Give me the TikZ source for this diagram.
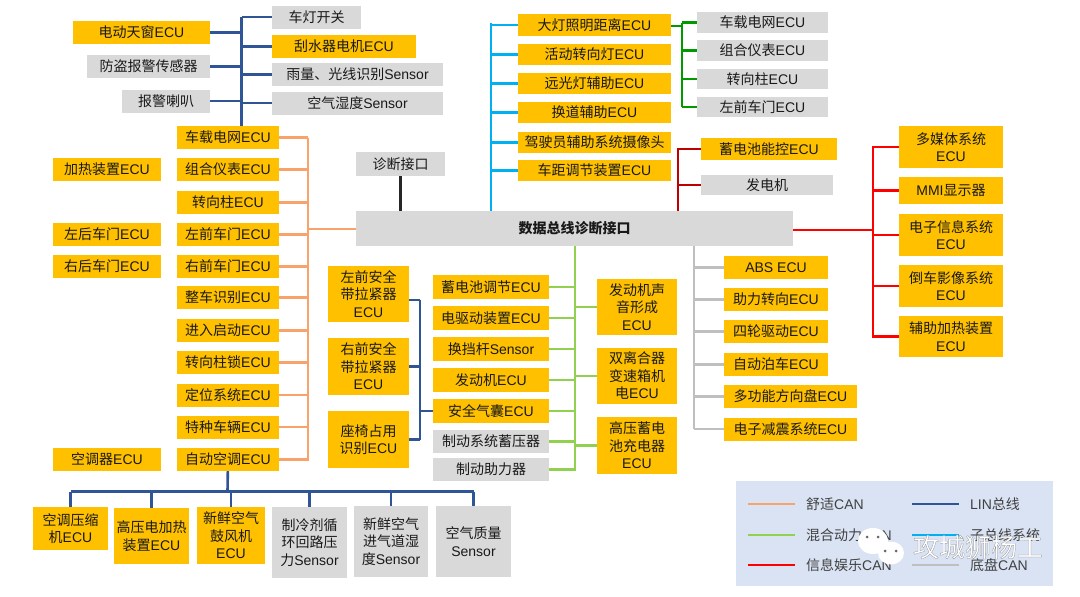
\documentclass[tikz,border=0pt]{standalone}
\usepackage{fontspec}
\usepackage{xcolor}
\usetikzlibrary{shapes.geometric}
\setmainfont{Noto Sans CJK SC}
\newfontfamily\latf{Liberation Sans}
\newcommand{\ECU}{{\latf ECU}}
\newcommand{\Sen}{{\latf Sensor}}
\newcommand{\CAN}{{\latf CAN}}
\definecolor{ecucolor}{RGB}{255,192,0}
\definecolor{sencolor}{RGB}{217,217,217}
\definecolor{comfcolor}{RGB}{248,163,107}
\definecolor{lincolor}{RGB}{47,85,151}
\definecolor{hybcolor}{RGB}{146,208,80}
\definecolor{subcolor}{RGB}{0,176,240}
\definecolor{chascolor}{RGB}{191,191,191}
\definecolor{legcolor}{RGB}{218,227,243}
\begin{document}
\begin{tikzpicture}[
  x=1pt, y=-1pt,
  box/.style={minimum width=#1, inner sep=0pt, align=center, text=black!90, font=\fontsize{14}{17.5}\selectfont},
  ecu/.style={box=#1, fill=ecucolor},
  sen/.style={box=#1, fill=sencolor},
  bus/.style={line width=2.6pt},
  comf/.style={bus, comfcolor},
  lin/.style={bus, lincolor},
  hyb/.style={bus, hybcolor},
  sub/.style={bus, subcolor},
  chas/.style={bus, chascolor},
  info/.style={bus, red},
  gate/.style={bus, green!60!black},
  batt/.style={bus, red!75!black},
  leg/.style={font=\fontsize{14}{17}\selectfont, text=black!75, anchor=west, inner sep=0pt},
  bubble/.style={fill=white, ellipse, inner sep=0pt},
  eye/.style={fill=black!60, circle, minimum size=3pt, inner sep=0pt},
]
\useasboundingbox (0,0) rectangle (1080,597);
% Main interface
\node[sen=437pt, minimum height=35pt, font=\fontsize{14}{17}\selectfont\bfseries] (diag) at (574.5,228.5) {数据总线诊断接口};
\node[sen=89pt, minimum height=24pt] (port) at (400.5,164) {诊断接口};
\draw[bus, black!85] (port) -- (port |- diag.north);
% LIN top
\foreach \i/\x/\y/\w/\st/\t in {0/141.5/32.5/137/ecu/电动天窗\ECU, 1/148.5/66.5/123/sen/防盗报警传感器, 2/166/101/88/sen/报警喇叭} {
  \node[\st=\w pt, minimum height=23pt] (tl\i) at (\x,\y) {\t};
}
\foreach \i/\x/\y/\w/\st/\t in {0/316.5/17/89/sen/车灯开关, 1/344/46.5/144/ecu/刮水器电机\ECU, 2/357.5/74.5/171/sen/雨量、光线识别\Sen, 3/357.5/103/171/sen/空气湿度\Sen} {
  \node[\st=\w pt, minimum height=23pt] (tr\i) at (\x,\y) {\t};
}
\coordinate (lintop) at (241.5,17);
\coordinate (linbot) at (241.5,126);
\draw[lin] (lintop) -- (linbot);
\foreach \i in {0,1,2} {
  \draw[lin] (tl\i) -- (tl\i -| lintop);
}
\foreach \i in {0,1,2,3} {
  \draw[lin] (tr\i) -- (tr\i -| lintop);
}
% Comfort CAN
\foreach \i/\y/\t in {0/137.5/车载电网\ECU, 1/169.5/组合仪表\ECU, 2/202.5/转向柱\ECU, 3/234.5/左前车门\ECU, 4/266.5/右前车门\ECU, 5/297.5/整车识别\ECU, 6/330.5/进入启动\ECU, 7/362.5/转向柱锁\ECU, 8/395/定位系统\ECU, 9/427/特种车辆\ECU, 10/459.5/自动空调\ECU} {
  \node[ecu=102pt, minimum height=23pt] (c\i) at (228,\y) {\t};
}
\coordinate (comftop) at (308,137.5);
\coordinate (combot) at (308,460.5);
\draw[comf] (comftop) -- (combot);
\foreach \i in {0,...,10} {
  \draw[comf] (c\i) -- (c\i -| comftop);
}
\draw[comf] (diag.west |- 0,229) -- (comftop |- 0,229);
\foreach \i/\y/\t in {0/169.5/加热装置\ECU, 1/234.5/左后车门\ECU, 2/266.5/右后车门\ECU, 3/459.5/空调器\ECU} {
  \node[ecu=108pt, minimum height=23pt] (o\i) at (107,\y) {\t};
}
% LIN bottom
\coordinate (binbar) at (227.5,491.5);
\draw[lin] (c10) -- (binbar);
\foreach \i/\x/\y/\w/\h/\st/\t in {0/70.5/528.5/75/43/ecu/空调压缩\\机\ECU, 1/151.5/536/75/56/ecu/高压电加热\\装置\ECU, 2/231/535.5/68/57/ecu/新鲜空气\\鼓风机\\\ECU, 3/309.5/542.5/75/71/sen/制冷剂循\\环回路压\\力\Sen, 4/391/541.5/74/71/sen/新鲜空气\\进气道湿\\度\Sen, 5/473.5/541.5/75/71/sen/空气质量\\\Sen} {
  \node[\st=\w pt, minimum height=\h pt] (b\i) at (\x,\y) {\t};
}
\draw[lin] (b0.north |- binbar) -- (b5.north |- binbar);
\foreach \i in {0,...,5} {
  \draw[lin] (b\i.north |- binbar) -- (b\i.north);
}
% Seat belts
\foreach \i/\y/\h/\t in {0/294/56/左前安全\\带拉紧器\\\ECU, 1/366.5/57/右前安全\\带拉紧器\\\ECU, 2/439.5/57/座椅占用\\识别\ECU} {
  \node[ecu=81pt, minimum height=\h pt] (s\i) at (368.5,\y) {\t};
}
% Hybrid CAN
\foreach \i/\y/\st/\t in {0/287/ecu/蓄电池调节\ECU, 1/318/ecu/电驱动装置\ECU, 2/349/ecu/换挡杆\Sen, 3/380/ecu/发动机\ECU, 4/411/ecu/安全气囊\ECU, 5/441.5/sen/制动系统蓄压器, 6/469.5/sen/制动助力器} {
  \node[\st=116pt, minimum height=23.5pt] (h\i) at (491,\y) {\t};
}
\foreach \i/\y/\t in {0/307/发动机声\\音形成\\\ECU, 1/376/双离合器\\变速箱机\\电\ECU, 2/445.5/高压蓄电\\池充电器\\\ECU} {
  \node[ecu=80pt, minimum height=56.5pt] (d\i) at (637,\y) {\t};
}
\coordinate (hybbot) at (575,470.5);
\draw[hyb] (diag.south -| hybbot) -- (hybbot);
\foreach \i in {0,...,6} {
  \draw[hyb] (h\i) -- (h\i -| hybbot);
}
\foreach \i in {0,1,2} {
  \draw[hyb] (d\i) -- (d\i -| hybbot);
}
% LIN to seat belts
\coordinate (seatbar) at (420,300);
\draw[lin] (seatbar) -- (seatbar |- s2);
\draw[lin] (s0.east |- seatbar) -- (seatbar);
\foreach \i in {1,2} {
  \draw[lin] (s\i) -- (s\i -| seatbar);
}
\draw[lin] (h4) -- (h4 -| seatbar);
% Sub bus
\foreach \i/\y/\t in {0/25/大灯照明距离\ECU, 1/54.5/活动转向灯\ECU, 2/83.5/远光灯辅助\ECU, 3/112.5/换道辅助\ECU, 4/142.5/驾驶员辅助系统摄像头, 5/170.5/车距调节装置\ECU} {
  \node[ecu=153pt, minimum height=21.5pt] (t\i) at (594.5,\y) {\t};
}
\coordinate (subtop) at (491,23);
\draw[sub] (subtop) -- (diag.north -| subtop);
\foreach \i in {0,...,5} {
  \draw[sub] (t\i) -- (t\i -| subtop);
}
% Green branch
\foreach \i/\y/\t in {0/22.5/车载电网\ECU, 1/50.5/组合仪表\ECU, 2/79/转向柱\ECU, 3/107/左前车门\ECU} {
  \node[sen=131pt, minimum height=20.5pt] (g\i) at (762.5,\y) {\t};
}
\coordinate (gbar) at (682,26);
\draw[gate] (t0.east |- gbar) -- (gbar);
\draw[gate] (gbar |- g0) -- (gbar |- g3);
\foreach \i in {0,...,3} {
  \draw[gate] (g\i) -- (g\i -| gbar);
}
% Dark red branch
\node[ecu=136pt, minimum height=22pt] (e0) at (769,149) {蓄电池能控\ECU};
\node[sen=132pt, minimum height=20pt] (e1) at (767,185) {发电机};
\coordinate (ebar) at (678,149);
\draw[batt] (e0) -- (ebar) -- (diag.north -| ebar);
\draw[batt] (e1) -- (e1 -| ebar);
% Chassis CAN
\foreach \i/\x/\y/\w/\t in {0/776/267.5/104/{\latf ABS ECU}, 1/776/299.5/104/助力转向\ECU, 2/776/331.5/104/四轮驱动\ECU, 3/776/364.5/104/自动泊车\ECU, 4/790.5/396.5/133/多功能方向盘\ECU, 5/790.5/429/133/电子减震系统\ECU} {
  \node[ecu=\w pt, minimum height=23pt] (a\i) at (\x,\y) {\t};
}
\coordinate (chasbot) at (694,429);
\draw[chas] (diag.south -| chasbot) -- (chasbot);
\foreach \i in {0,...,5} {
  \draw[chas] (a\i) -- (a\i -| chasbot);
}
% Infotainment CAN
\foreach \i/\y/\h/\t in {0/147/42/多媒体系统\\\ECU, 1/190.5/27/{\latf MMI}显示器, 2/235/42/电子信息系统\\\ECU, 3/286/42/倒车影像系统\\\ECU, 4/336.5/41/辅助加热装置\\\ECU} {
  \node[ecu=104pt, minimum height=\h pt] (m\i) at (951,\y) {\t};
}
\coordinate (mbar) at (873,147);
\draw[info] (m0) -- (mbar) -- (mbar |- m4) -- (m4);
\foreach \i in {1,2,3} {
  \draw[info] (m\i) -- (m\i -| mbar);
}
\draw[info] (diag.east |- 0,230) -- (mbar |- 0,230);
% Legend
\node[fill=legcolor, minimum width=317pt, minimum height=105pt, inner sep=0pt] (legbox) at (894.5,533.5) {};
\foreach \i/\x/\y/\sty/\t in {0/748/504/comf/舒适\CAN, 1/748/535/hyb/混合动力\CAN, 2/748/565/info/信息娱乐\CAN, 3/912/504/lin/{\latf LIN}总线, 4/912/535/sub/子总线系统, 5/912/565/chas/底盘\CAN} {
  \coordinate (ls\i) at (\x,\y);
  \coordinate (le\i) at (\x+47,\y);
  \draw[\sty] (ls\i) -- (le\i);
  \node[leg] (lt\i) at (\x+58,\y) {\t};
}
% Watermark
\node[bubble, minimum width=30pt, minimum height=26pt] (wb0) at (873,541) {};
\node[bubble, minimum width=26pt, minimum height=23pt] (wb1) at (891,553) {};
\foreach \i/\x/\y in {0/867/537, 1/878/537, 2/885/551, 3/896/551} {
  \node[eye] (we\i) at (\x,\y) {};
}
\node[font=\fontsize{26}{30}\selectfont, white, inner sep=0pt] (wm) at (978,547) {\special{pdf:code 2 Tr 0.2 w 0.5 G}攻城狮杨工\special{pdf:code 0 Tr}};
\end{tikzpicture}
\end{document}
